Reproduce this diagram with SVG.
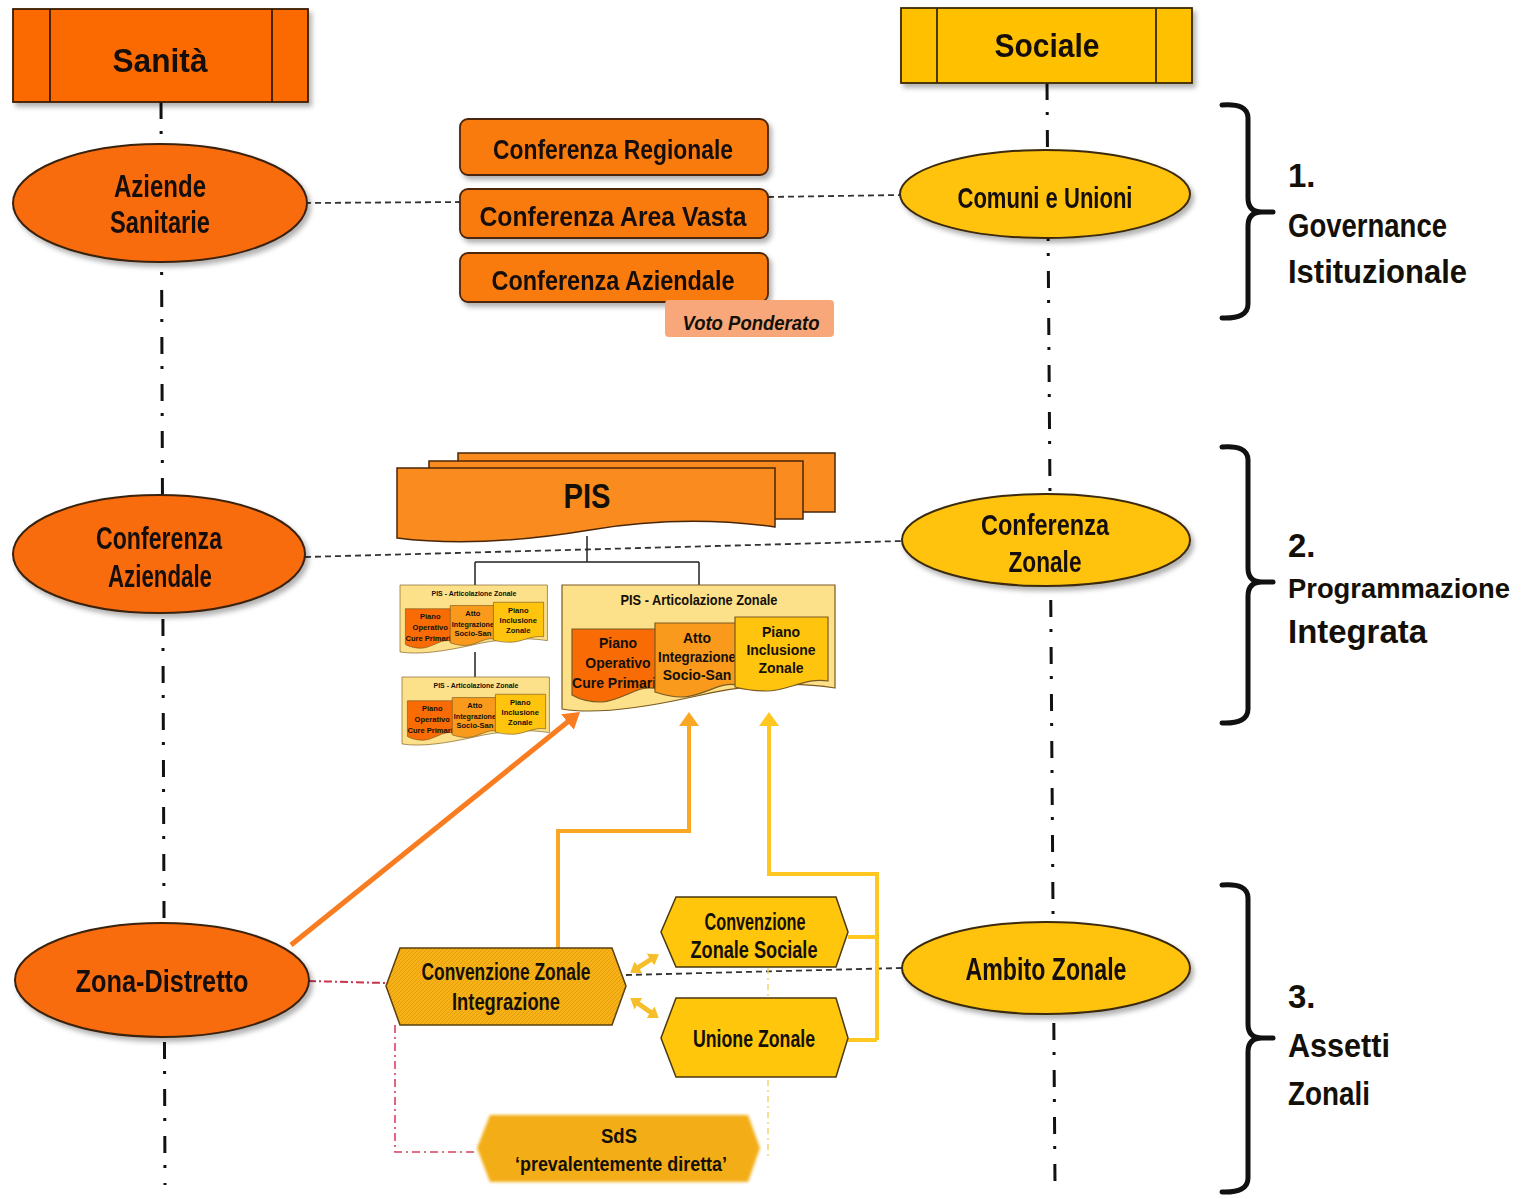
<svg xmlns="http://www.w3.org/2000/svg" width="1529" height="1199" viewBox="0 0 1529 1199">
<defs>
<style>
.t{font-family:"Liberation Sans",Arial,sans-serif;fill:#141008;text-anchor:middle;font-weight:bold}
.l{font-family:"Liberation Sans",Arial,sans-serif;fill:#141008;font-weight:bold}
.ell-o{fill:#F96C0A;stroke:#3a220c;stroke-width:2}
.ell-y{fill:#FFC20E;stroke:#3a2a0c;stroke-width:2}
.box{fill:#F97A10;stroke:#4a2608;stroke-width:1.8}
.axis{stroke:#111;stroke-width:3;stroke-dasharray:17 12 3 15;fill:none}
.dash{stroke:#333;stroke-width:1.8;stroke-dasharray:6 4;fill:none}
.brk{stroke:#111;stroke-width:5;fill:none;stroke-linecap:round;stroke-linejoin:round}
.thin{stroke:#222;stroke-width:1.5;fill:none}
.hexy{fill:#FFC60B;stroke:#4a3810;stroke-width:1.5}
.docl{stroke:#7a5a20;stroke-width:1.2}
</style>
<filter id="sh" x="-10%" y="-10%" width="125%" height="135%"><feDropShadow dx="3" dy="4" stdDeviation="2.5" flood-color="#000" flood-opacity="0.3"/></filter>
<filter id="soft" x="-5%" y="-10%" width="110%" height="120%"><feGaussianBlur stdDeviation="1.4"/></filter>
<pattern id="hatch" width="4" height="4" patternUnits="userSpaceOnUse"><rect width="4" height="4" fill="#F7B216"/><path d="M0,4 L4,0 M-1,1 L1,-1 M3,5 L5,3" stroke="#E49A0E" stroke-width="0.9"/></pattern>
<marker id="aOr" viewBox="0 0 16 20" refX="6" refY="10" markerWidth="16" markerHeight="20" markerUnits="userSpaceOnUse" orient="auto"><path d="M0,0 L16,10 L0,20 Z" fill="#F97C20"/></marker>
<marker id="aAm" viewBox="0 0 14 20" refX="4" refY="10" markerWidth="14" markerHeight="20" markerUnits="userSpaceOnUse" orient="auto"><path d="M0,0 L14,10 L0,20 Z" fill="#F9A825"/></marker>
<marker id="aYe" viewBox="0 0 14 20" refX="4" refY="10" markerWidth="14" markerHeight="20" markerUnits="userSpaceOnUse" orient="auto"><path d="M0,0 L14,10 L0,20 Z" fill="#FFC720"/></marker>
<marker id="aDb" viewBox="0 0 10 14" refX="3" refY="7" markerWidth="10" markerHeight="14" markerUnits="userSpaceOnUse" orient="auto-start-reverse"><path d="M0,0 L10,7 L0,14 Z" fill="#F5BE2A"/></marker>
</defs>

<g id="connectors">
  <line class="axis" x1="161" y1="102" x2="165" y2="1185"/>
  <line class="axis" x1="1047" y1="83" x2="1055" y2="1185"/>
  <line class="dash" x1="305" y1="203" x2="460" y2="202"/>
  <line class="dash" x1="768" y1="197" x2="902" y2="195"/>
  <line class="dash" x1="305" y1="557" x2="902" y2="541"/>
  <path class="thin" d="M587,536 V562 M475,562 H699 M475,562 V585 M699,562 V585 M475,652 V677"/>
  <line x1="308" y1="981" x2="386" y2="983" stroke="#C8334F" stroke-width="2" stroke-dasharray="8 3 2 3"/>
  <path d="M395,1025 V1152 H477" fill="none" stroke="#D9405E" stroke-width="1.6" stroke-dasharray="8 4 2 4"/>
  <line class="dash" x1="626" y1="975" x2="902" y2="968"/>
  <line x1="768" y1="968" x2="768" y2="1160" stroke="#F2D270" stroke-width="1.5" stroke-dasharray="6 4 2 4"/>
  <line x1="291" y1="945" x2="572.2" y2="718.3" stroke="#F97C20" stroke-width="5" marker-end="url(#aOr)"/>
  <path d="M558,948 V831 H689 V722" fill="none" stroke="#F9A825" stroke-width="4" marker-end="url(#aAm)"/>
  <path d="M848,937 H877 M848,1040 H877 M877,1040 V874 H769 V722" fill="none" stroke="#FFC720" stroke-width="4" marker-end="url(#aYe)"/>
  <line x1="636" y1="969" x2="653" y2="958" stroke="#F5BE2A" stroke-width="5" marker-start="url(#aDb)" marker-end="url(#aDb)"/>
  <line x1="636" y1="1002" x2="653" y2="1014" stroke="#F5BE2A" stroke-width="5" marker-start="url(#aDb)" marker-end="url(#aDb)"/>
</g>

<g id="hdr-sanita" filter="url(#sh)">
  <rect x="13" y="9" width="295" height="93" fill="#FA6A05" stroke="#3a1c04" stroke-width="1.8"/>
  <path d="M50,9 V102 M272,9 V102" stroke="#3a1c04" stroke-width="1.8"/>
  <text class="t" x="160" y="72" font-size="34" textLength="95" lengthAdjust="spacingAndGlyphs">Sanità</text>
</g>
<g id="hdr-sociale" filter="url(#sh)">
  <rect x="901" y="8" width="291" height="75" fill="#FFC000" stroke="#3a2a04" stroke-width="1.8"/>
  <path d="M937,8 V83 M1156,8 V83" stroke="#3a2a04" stroke-width="1.8"/>
  <text class="t" x="1047" y="57" font-size="34" textLength="105" lengthAdjust="spacingAndGlyphs">Sociale</text>
</g>

<g id="aziende-sanitarie" filter="url(#sh)">
  <ellipse class="ell-o" cx="160" cy="203" rx="147" ry="59"/>
  <text class="t" x="160" y="197" font-size="31" textLength="92" lengthAdjust="spacingAndGlyphs">Aziende</text>
  <text class="t" x="160" y="233" font-size="31" textLength="100" lengthAdjust="spacingAndGlyphs">Sanitarie</text>
</g>
<g id="conferenza-aziendale-ell" filter="url(#sh)">
  <ellipse class="ell-o" cx="159" cy="554" rx="146" ry="59"/>
  <text class="t" x="159" y="549" font-size="31" textLength="126" lengthAdjust="spacingAndGlyphs">Conferenza</text>
  <text class="t" x="160" y="587" font-size="31" textLength="104" lengthAdjust="spacingAndGlyphs">Aziendale</text>
</g>
<g id="zona-distretto" filter="url(#sh)">
  <ellipse class="ell-o" cx="162" cy="980" rx="147" ry="57"/>
  <text class="t" x="162" y="992" font-size="31" textLength="173" lengthAdjust="spacingAndGlyphs">Zona-Distretto</text>
</g>

<g id="comuni-unioni" filter="url(#sh)">
  <ellipse class="ell-y" cx="1045" cy="194" rx="145" ry="44"/>
  <text class="t" x="1045" y="208" font-size="30" textLength="175" lengthAdjust="spacingAndGlyphs">Comuni e Unioni</text>
</g>
<g id="conferenza-zonale" filter="url(#sh)">
  <ellipse class="ell-y" cx="1046" cy="540" rx="144" ry="46"/>
  <text class="t" x="1045" y="535" font-size="30" textLength="128" lengthAdjust="spacingAndGlyphs">Conferenza</text>
  <text class="t" x="1045" y="572" font-size="30" textLength="73" lengthAdjust="spacingAndGlyphs">Zonale</text>
</g>
<g id="ambito-zonale" filter="url(#sh)">
  <ellipse class="ell-y" cx="1046" cy="968" rx="144" ry="46"/>
  <text class="t" x="1046" y="980" font-size="31" textLength="161" lengthAdjust="spacingAndGlyphs">Ambito Zonale</text>
</g>

<g id="conf-regionale" filter="url(#sh)">
  <rect class="box" x="460" y="119" width="308" height="56" rx="8"/>
  <text class="t" x="613" y="159" font-size="27" textLength="240" lengthAdjust="spacingAndGlyphs">Conferenza Regionale</text>
</g>
<g id="conf-area-vasta" filter="url(#sh)">
  <rect class="box" x="460" y="189" width="308" height="49" rx="8"/>
  <text class="t" x="613" y="226" font-size="27" textLength="267" lengthAdjust="spacingAndGlyphs">Conferenza Area Vasta</text>
</g>
<g id="conf-aziendale" filter="url(#sh)">
  <rect class="box" x="460" y="253" width="308" height="49" rx="8"/>
  <text class="t" x="613" y="290" font-size="27" textLength="243" lengthAdjust="spacingAndGlyphs">Conferenza Aziendale</text>
</g>
<g id="voto-ponderato">
  <rect x="665" y="300" width="169" height="37" rx="4" fill="#F7A77A"/>
  <text class="t" x="751" y="330" font-size="21" font-style="italic" textLength="137" lengthAdjust="spacingAndGlyphs">Voto Ponderato</text>
</g>

<g id="pis">
  <rect x="458" y="453" width="377" height="59" fill="#F98B1F" stroke="#4a2608" stroke-width="1.5"/>
  <rect x="429" y="461" width="374" height="58" fill="#F98B1F" stroke="#4a2608" stroke-width="1.5"/>
  <path d="M397,468 H775 V527 C710,518 650,520 590,530 C530,540 460,546 397,538 Z" fill="#F98B1F" stroke="#4a2608" stroke-width="1.5"/>
  <text class="t" x="587" y="508" font-size="35" font-weight="normal" textLength="47" lengthAdjust="spacingAndGlyphs">PIS</text>
</g>

<g id="pis-zonale-big" transform="translate(562,585)">
  <path class="docl" d="M0,0 H273 V103 C230,96 180,100 130,112 C85,122 35,130 0,124 Z" fill="#FCE08A"/>
  <text class="t" x="137" y="20" font-size="15" textLength="157" lengthAdjust="spacingAndGlyphs">PIS - Articolazione Zonale</text>
  <path class="docl" d="M10,44 H95 V104 C78,98 60,116 40,117 C25,117 15,113 10,110 Z" fill="#F96B04"/>
  <text class="t" x="56" y="63" font-size="14">Piano</text>
  <text class="t" x="56" y="83" font-size="14">Operativo</text>
  <text class="t" x="56" y="103" font-size="14">Cure Primarie</text>
  <path class="docl" d="M93,38 H175 V100 C158,96 140,112 120,112 C108,112 99,109 93,107 Z" fill="#F99A1C"/>
  <text class="t" x="135" y="58" font-size="14">Atto</text>
  <text class="t" x="135" y="77" font-size="14" textLength="78" lengthAdjust="spacingAndGlyphs">Integrazione</text>
  <text class="t" x="135" y="95" font-size="14">Socio-San</text>
  <path class="docl" d="M173,32 H266 V96 C245,92 225,106 205,106 C190,106 180,104 173,102 Z" fill="#FFC40E"/>
  <text class="t" x="219" y="52" font-size="14">Piano</text>
  <text class="t" x="219" y="70" font-size="14">Inclusione</text>
  <text class="t" x="219" y="88" font-size="14">Zonale</text>
</g>

<g id="pis-zonale-small-1" transform="translate(400,585) scale(0.54)">
  <path class="docl" d="M0,0 H273 V103 C230,96 180,100 130,112 C85,122 35,130 0,124 Z" fill="#FCE08A"/>
  <text class="t" x="137" y="20" font-size="15" textLength="157" lengthAdjust="spacingAndGlyphs">PIS - Articolazione Zonale</text>
  <path class="docl" d="M10,44 H95 V104 C78,98 60,116 40,117 C25,117 15,113 10,110 Z" fill="#F96B04"/>
  <text class="t" x="56" y="63" font-size="14">Piano</text>
  <text class="t" x="56" y="83" font-size="14">Operativo</text>
  <text class="t" x="56" y="103" font-size="14">Cure Primarie</text>
  <path class="docl" d="M93,38 H175 V100 C158,96 140,112 120,112 C108,112 99,109 93,107 Z" fill="#F99A1C"/>
  <text class="t" x="135" y="58" font-size="14">Atto</text>
  <text class="t" x="135" y="77" font-size="14" textLength="78" lengthAdjust="spacingAndGlyphs">Integrazione</text>
  <text class="t" x="135" y="95" font-size="14">Socio-San</text>
  <path class="docl" d="M173,32 H266 V96 C245,92 225,106 205,106 C190,106 180,104 173,102 Z" fill="#FFC40E"/>
  <text class="t" x="219" y="52" font-size="14">Piano</text>
  <text class="t" x="219" y="70" font-size="14">Inclusione</text>
  <text class="t" x="219" y="88" font-size="14">Zonale</text>
</g>

<g id="pis-zonale-small-2" transform="translate(402,677) scale(0.54)">
  <path class="docl" d="M0,0 H273 V103 C230,96 180,100 130,112 C85,122 35,130 0,124 Z" fill="#FCE08A"/>
  <text class="t" x="137" y="20" font-size="15" textLength="157" lengthAdjust="spacingAndGlyphs">PIS - Articolazione Zonale</text>
  <path class="docl" d="M10,44 H95 V104 C78,98 60,116 40,117 C25,117 15,113 10,110 Z" fill="#F96B04"/>
  <text class="t" x="56" y="63" font-size="14">Piano</text>
  <text class="t" x="56" y="83" font-size="14">Operativo</text>
  <text class="t" x="56" y="103" font-size="14">Cure Primarie</text>
  <path class="docl" d="M93,38 H175 V100 C158,96 140,112 120,112 C108,112 99,109 93,107 Z" fill="#F99A1C"/>
  <text class="t" x="135" y="58" font-size="14">Atto</text>
  <text class="t" x="135" y="77" font-size="14" textLength="78" lengthAdjust="spacingAndGlyphs">Integrazione</text>
  <text class="t" x="135" y="95" font-size="14">Socio-San</text>
  <path class="docl" d="M173,32 H266 V96 C245,92 225,106 205,106 C190,106 180,104 173,102 Z" fill="#FFC40E"/>
  <text class="t" x="219" y="52" font-size="14">Piano</text>
  <text class="t" x="219" y="70" font-size="14">Inclusione</text>
  <text class="t" x="219" y="88" font-size="14">Zonale</text>
</g>

<g id="conv-integrazione">
  <polygon points="386,986 400,948 612,948 626,986 612,1025 400,1025" fill="url(#hatch)" stroke="#5a4010" stroke-width="1.5"/>
  <text class="t" x="506" y="980" font-size="24" textLength="169" lengthAdjust="spacingAndGlyphs">Convenzione Zonale</text>
  <text class="t" x="506" y="1010" font-size="24" textLength="108" lengthAdjust="spacingAndGlyphs">Integrazione</text>
</g>
<g id="conv-sociale">
  <polygon class="hexy" points="661,932 676,897 836,897 848,932 836,967 676,967"/>
  <text class="t" x="755" y="930" font-size="24" textLength="101" lengthAdjust="spacingAndGlyphs">Convenzione</text>
  <text class="t" x="754" y="958" font-size="24" textLength="127" lengthAdjust="spacingAndGlyphs">Zonale Sociale</text>
</g>
<g id="unione-zonale">
  <polygon class="hexy" points="661,1038 676,998 836,998 848,1038 836,1077 676,1077"/>
  <text class="t" x="754" y="1047" font-size="24" textLength="122" lengthAdjust="spacingAndGlyphs">Unione Zonale</text>
</g>
<g id="sds">
  <polygon points="477,1148 490,1115 748,1115 760,1148 748,1182 490,1182" fill="url(#hatch)" filter="url(#soft)"/>
  <text class="t" x="619" y="1143" font-size="21" textLength="36" lengthAdjust="spacingAndGlyphs">SdS</text>
  <text class="t" x="621" y="1171" font-size="21" textLength="212" lengthAdjust="spacingAndGlyphs">‘prevalentemente diretta’</text>
</g>

<g id="bracket-1">
  <path class="brk" d="M1222,105 Q1248,103 1248,118 V198 Q1248,212 1262,212 H1273 M1262,212 Q1248,212 1248,226 V304 Q1248,319 1222,318"/>
  <text class="l" x="1288" y="187" font-size="33">1.</text>
  <text class="l" x="1288" y="237" font-size="33" textLength="159" lengthAdjust="spacingAndGlyphs">Governance</text>
  <text class="l" x="1288" y="283" font-size="33" textLength="179" lengthAdjust="spacingAndGlyphs">Istituzionale</text>
</g>
<g id="bracket-2">
  <path class="brk" d="M1222,447 Q1248,445 1248,460 V568 Q1248,582 1262,582 H1273 M1262,582 Q1248,582 1248,596 V709 Q1248,724 1222,723"/>
  <text class="l" x="1288" y="557" font-size="33">2.</text>
  <text class="l" x="1288" y="598" font-size="28" textLength="222" lengthAdjust="spacingAndGlyphs">Programmazione</text>
  <text class="l" x="1288" y="643" font-size="33" textLength="139" lengthAdjust="spacingAndGlyphs">Integrata</text>
</g>
<g id="bracket-3">
  <path class="brk" d="M1222,885 Q1248,883 1248,898 V1024 Q1248,1038 1262,1038 H1273 M1262,1038 Q1248,1038 1248,1052 V1178 Q1248,1193 1222,1192"/>
  <text class="l" x="1288" y="1008" font-size="33">3.</text>
  <text class="l" x="1288" y="1057" font-size="33" textLength="102" lengthAdjust="spacingAndGlyphs">Assetti</text>
  <text class="l" x="1288" y="1105" font-size="33" textLength="82" lengthAdjust="spacingAndGlyphs">Zonali</text>
</g>
</svg>
